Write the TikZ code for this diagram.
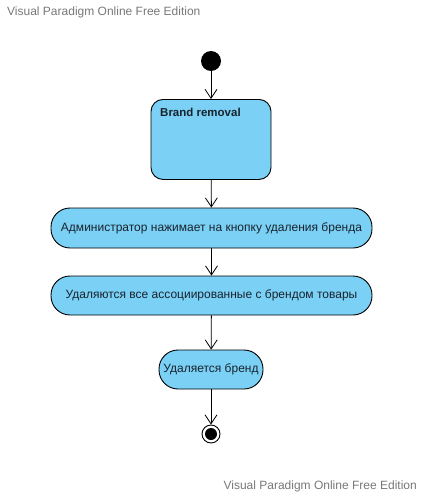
\documentclass[tikz,border=0pt]{standalone}
\usepackage{fontspec}
\setmainfont{Liberation Sans}
\usetikzlibrary{arrows.meta}
\definecolor{actfill}{RGB}{122,208,245}
\definecolor{wm}{RGB}{120,120,120}
\definecolor{txt}{RGB}{25,35,45}
\tikzset{
  act/.style={draw=black, line width=0.9pt, fill=actfill, text=txt, font=\fontsize{12}{14}\selectfont},
  flow/.style={draw=black, line width=0.8pt, -{Straight Barb[length=9pt,width=12pt,line width=0.8pt]}},
  wmark/.style={text=wm, font=\fontsize{12}{14}\selectfont, inner sep=0pt}
}
\begin{document}
\begin{tikzpicture}[x=1pt,y=-1pt]
\useasboundingbox (0,0) rectangle (423,495);
\node[wmark, anchor=west] (wm1) at (7,12) {Visual Paradigm Online Free Edition};
\node[wmark, anchor=east] (wm2) at (417,486) {Visual Paradigm Online Free Edition};
\node[circle, fill=black, minimum size=20pt, inner sep=0pt] (init) at (211,61) {};
\node[act, rounded corners=12pt, minimum width=120pt, minimum height=80pt, anchor=north] (brand) at (211,99) {};
\node[anchor=north west, inner sep=0pt, text=txt, font=\bfseries\fontsize{11.5}{13}\selectfont] (brandlbl) at (160,107.5) {Brand removal};
\node[act, rounded corners=19pt, minimum width=321pt, minimum height=40pt] (a1) at (211.5,228) {Администратор нажимает на кнопку удаления бренда};
\node[act, rounded corners=19pt, minimum width=321pt, minimum height=39pt] (a2) at (211.5,295.5) {Удаляются все ассоциированные с брендом товары};
\node[act, rounded corners=19pt, minimum width=104pt, minimum height=39pt] (a3) at (211,369.5) {Удаляется бренд};
\node[circle, draw=black, line width=0.9pt, fill=white, minimum size=18pt, inner sep=0pt] (fin) at (211,434) {};
\node[circle, fill=black, minimum size=12pt, inner sep=0pt] (finin) at (211,434) {};
\draw[flow] (init) -- (brand);
\draw[flow] (brand) -- (a1);
\draw[flow] (a1) -- (a2);
\draw[flow] (a2) -- (a3);
\draw[flow] (a3) -- (fin);
\end{tikzpicture}
\end{document}
